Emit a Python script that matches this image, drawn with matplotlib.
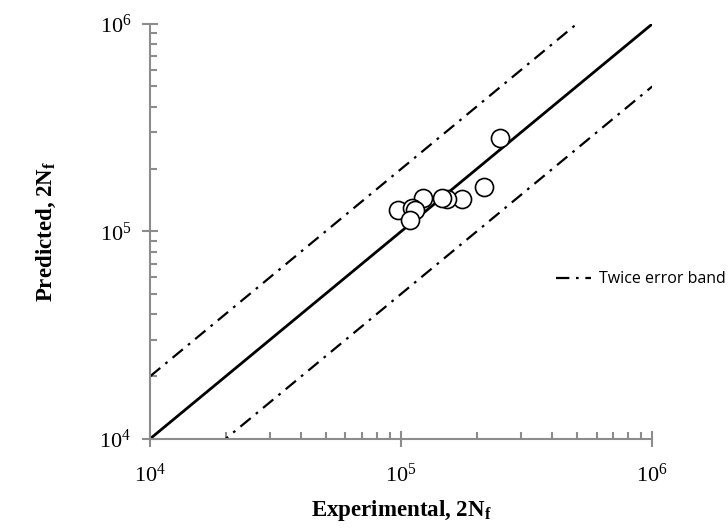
import numpy as np
import matplotlib
matplotlib.use("Agg")
import matplotlib.pyplot as plt
from matplotlib.ticker import LogLocator, NullFormatter

# experimental vs predicted fatigue life (reversals)
experimental = [2.48e5, 2.13e5, 1.75e5, 1.52e5, 1.45e5, 1.22e5, 9.75e4, 1.10e5, 1.14e5, 1.08e5]
predicted = [2.81e5, 1.64e5, 1.44e5, 1.44e5, 1.45e5, 1.45e5, 1.27e5, 1.29e5, 1.27e5, 1.14e5]

limits = [1e4, 1e6]
band_factor = 2

plt.rcParams['mathtext.fontset'] = 'custom'
plt.rcParams['mathtext.rm'] = 'Liberation Serif'
plt.rcParams['mathtext.bf'] = 'Liberation Serif:bold'
plt.rcParams['font.family'] = 'Liberation Serif'

fig = plt.figure(figsize=(7.28, 5.32), dpi=100)
ax = fig.add_axes([0.206, 0.175, 0.690, 0.780])

ref = np.array(limits)
ax.plot(ref, ref, color='black', lw=2.0, zorder=2)
upper, = ax.plot(ref, ref * band_factor, color='black', lw=1.6, zorder=2,
                 label='Twice error band')
lower, = ax.plot(ref, ref / band_factor, color='black', lw=1.6, zorder=2)
for ln in (upper, lower):
    ln.set_dashes([6, 3, 1.2, 3])

ax.plot(experimental, predicted, 'o', ms=13, mfc='white', mec='black',
        mew=1.2, zorder=3, clip_on=False)

ax.set_xscale('log')
ax.set_yscale('log')
ax.set_xlim(limits)
ax.set_ylim(limits)

for side in ('top', 'right'):
    ax.spines[side].set_visible(False)
for side in ('left', 'bottom'):
    ax.spines[side].set_color('#8c8c8c')
    ax.spines[side].set_linewidth(1.5)

ax.xaxis.set_major_locator(LogLocator(base=10, numticks=5))
ax.yaxis.set_major_locator(LogLocator(base=10, numticks=5))
ax.xaxis.set_minor_locator(LogLocator(base=10, subs=np.arange(2, 10), numticks=20))
ax.yaxis.set_minor_locator(LogLocator(base=10, subs=np.arange(2, 10), numticks=20))
ax.xaxis.set_minor_formatter(NullFormatter())
ax.yaxis.set_minor_formatter(NullFormatter())

ax.tick_params(which='major', direction='inout', length=11, width=1.5,
               color='#8c8c8c', labelsize=16, pad=8)
ax.tick_params(which='minor', direction='in', length=5, width=1.5,
               color='#8c8c8c')
ax.tick_params(axis='x', which='major', pad=12)

ax.set_xlabel(r'Experimental, 2N$_{\mathbf{f}}$', fontsize=16.5,
              fontweight='bold', labelpad=8)
ax.set_ylabel(r'Predicted, 2N$_{\mathbf{f}}$', fontsize=16.5,
              fontweight='bold', labelpad=30)

ax.legend(handles=[upper], loc='center left', bbox_to_anchor=(0.78, 0.385),
          frameon=False, handlelength=2.2, handletextpad=0.5,
          prop={'family': 'Open Sans', 'size': 11.5})

fig.savefig('out.png', dpi=100)
